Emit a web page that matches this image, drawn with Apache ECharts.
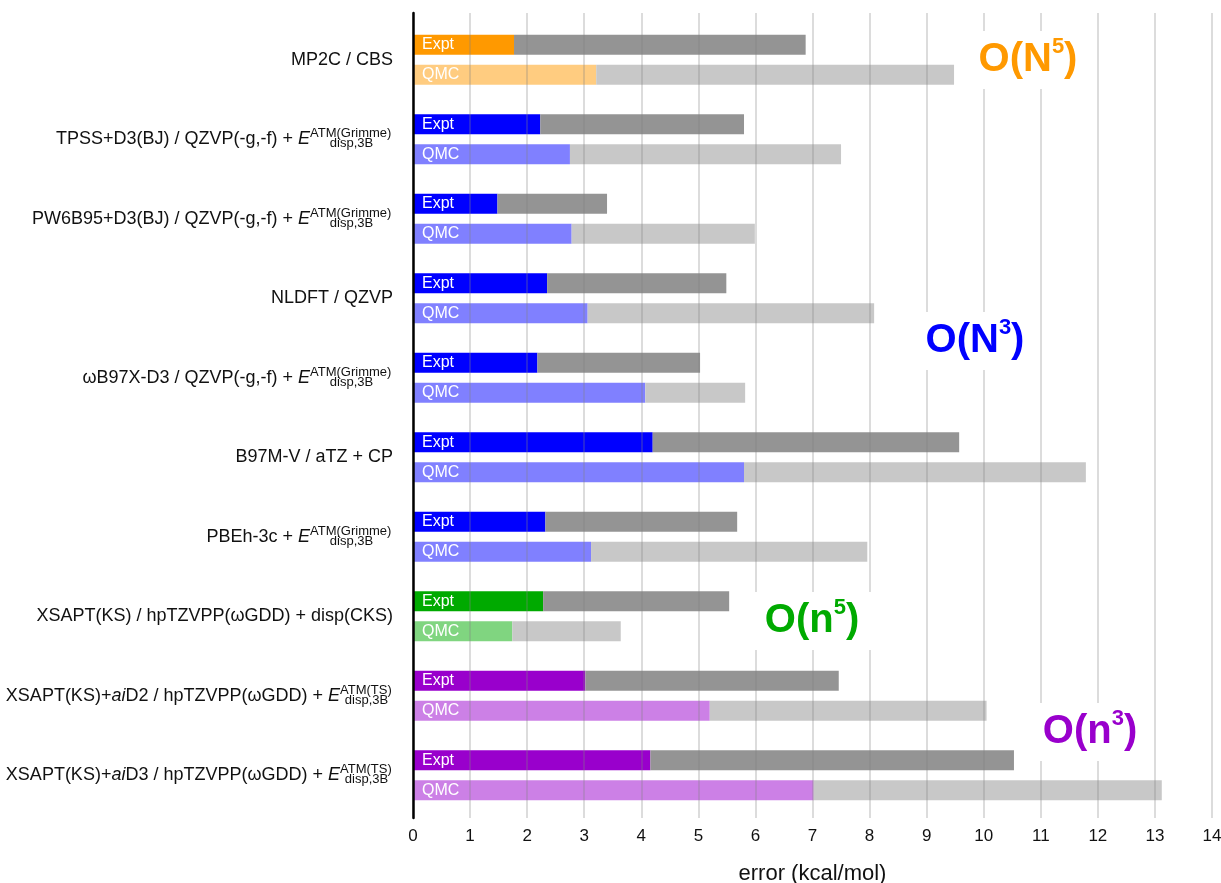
<!DOCTYPE html>
<html>
<head>
<meta charset="utf-8">
<script src="https://cdn.jsdelivr.net/npm/echarts/dist/echarts.min.js"></script>
<style>
  html, body { margin: 0; padding: 0; background: #fff; }
  #chart { width: 1221px; height: 883px; }
</style>
</head>
<body>
<div id="chart"></div>
<script>
// Methods, top to bottom. Text in {i|...} is set in italics.
const methods = [
  'MP2C / CBS',
  'TPSS+D3(BJ) / QZVP(-g,-f) + {i|E}',
  'PW6B95+D3(BJ) / QZVP(-g,-f) + {i|E}',
  'NLDFT / QZVP',
  'ωB97X-D3 / QZVP(-g,-f) + {i|E}',
  'B97M-V / aTZ + CP',
  'PBEh-3c + {i|E}',
  'XSAPT(KS) / hpTZVPP(ωGDD) + disp(CKS)',
  'XSAPT(KS)+{i|ai}D2 / hpTZVPP(ωGDD) + {i|E}',
  'XSAPT(KS)+{i|ai}D3 / hpTZVPP(ωGDD) + {i|E}'
];
// Three-body dispersion term attached to the method (superscript / subscript)
const atmSup = ['', 'ATM(Grimme)', 'ATM(Grimme)', '', 'ATM(Grimme)', '', 'ATM(Grimme)', '', 'ATM(TS)', 'ATM(TS)'];
const atmSub = ['', 'disp,3B', 'disp,3B', '', 'disp,3B', '', 'disp,3B', '', 'disp,3B', 'disp,3B'];
// Cost scaling class of each method
const scaling = ['N5', 'N3', 'N3', 'N3', 'N3', 'N3', 'N3', 'n5', 'n3', 'n3'];

// Errors (kcal/mol): coloured part and full bar length, vs. experiment and vs. QMC
const exptErr = [1.77, 2.23, 1.48, 2.35, 2.18, 4.20, 2.32, 2.28, 3.02, 4.16];
const exptMax = [6.88, 5.80, 3.40, 5.49, 5.03, 9.57, 5.68, 5.54, 7.46, 10.53];
const qmcErr  = [3.21, 2.75, 2.78, 3.06, 4.07, 5.80, 3.12, 1.74, 5.20, 7.02];
const qmcMax  = [9.48, 7.50, 5.99, 8.08, 5.82, 11.79, 7.96, 3.64, 10.05, 13.12];

const xTicks = [0, 1, 2, 3, 4, 5, 6, 7, 8, 9, 10, 11, 12, 13, 14];

const FONT = '"Liberation Sans", Arial, Helvetica, sans-serif';
const palette = {
  N5: { expt: '#FF9900', qmc: '#FFCC80', text: '#FF9900' },
  N3: { expt: '#0000FF', qmc: '#8080FF', text: '#0000FF' },
  n5: { expt: '#00AA00', qmc: '#80D580', text: '#00AA00' },
  n3: { expt: '#9900CC', qmc: '#CC80E6', text: '#9900CC' }
};

// Width of the stacked super/subscript column, so both start right after "E"
const ctx = document.createElement('canvas').getContext('2d');
ctx.font = '13px ' + FONT;
const scriptWidth = atmSup.map((s, i) => Math.ceil(Math.max(ctx.measureText(s).width, ctx.measureText(atmSub[i]).width)) + 1);

const richMain = {
  i: { fontStyle: 'italic', fontSize: 18, lineHeight: 22, color: '#111', fontFamily: FONT }
};
const richSup = {};
methods.forEach((m, k) => {
  richMain['sub' + k] = { fontSize: 13, lineHeight: 14, verticalAlign: 'bottom', width: scriptWidth[k], align: 'left', color: '#111', fontFamily: FONT };
  richSup['sup' + k] = { fontSize: 13, width: scriptWidth[k], align: 'left', color: '#111', fontFamily: FONT };
});

const names = methods.map((m, k) => 'm' + k);

const chart = echarts.init(document.getElementById('chart'), null, { renderer: 'canvas' });

const option = {
  animation: false,
  textStyle: { fontFamily: FONT },
  grid: [
    { left: 413, right: 9, top: 20, bottom: 68, outerBoundsMode: 'none', containLabel: false },   // bars
    { left: 413, right: 9, top: 13, bottom: 65, outerBoundsMode: 'none', containLabel: false }    // grid lines, axis line, ticks
  ],
  xAxis: [
    { gridIndex: 0, type: 'value', min: 0, max: 14, show: false },
    {
      gridIndex: 1, type: 'value', min: 0, max: 14, interval: 1, z: 5,
      axisLine: { show: false }, axisTick: { show: false },
      splitLine: { show: true, lineStyle: { color: 'rgba(128,128,128,0.28)', width: 2 } },
      axisLabel: {
        fontSize: 17, color: '#111', margin: 10,
        formatter: v => String(xTicks[v] !== undefined ? xTicks[v] : v)
      },
      name: 'error (kcal/mol)', nameLocation: 'middle', nameGap: 45,
      nameTextStyle: { fontSize: 22, color: '#111' }
    }
  ],
  yAxis: [
    {
      gridIndex: 0, type: 'category', data: names, inverse: true,
      axisLine: { show: false }, axisTick: { show: false }, splitLine: { show: false },
      axisLabel: {
        margin: 20, fontSize: 18, lineHeight: 22, color: '#111',
        formatter: (v, k) => methods[k] + (atmSub[k] ? '{sub' + k + '|' + atmSub[k] + '}' : ''),
        rich: richMain
      }
    },
    {
      gridIndex: 0, type: 'category', data: names, inverse: true, position: 'left',
      axisLine: { show: false }, axisTick: { show: false }, splitLine: { show: false },
      axisLabel: {
        margin: 20, fontSize: 13, color: '#111', padding: [0, 0, 11, 0],
        formatter: (v, k) => atmSup[k] ? '{sup' + k + '|' + atmSup[k] + '}' : '',
        rich: richSup
      }
    },
    {
      gridIndex: 1, type: 'value', min: 0, max: 1, z: 6,
      axisLine: { show: true, lineStyle: { color: '#000', width: 2.5 } },
      axisTick: { show: false }, axisLabel: { show: false }, splitLine: { show: false }
    }
  ],
  series: [
    {
      name: 'Expt', type: 'bar', xAxisIndex: 0, yAxisIndex: 0, stack: 'expt',
      barWidth: 20, barGap: '50%',
      data: exptErr.map((v, k) => ({ value: v, itemStyle: { color: palette[scaling[k]].expt } })),
      label: { show: true, position: 'insideLeft', distance: 9, formatter: 'Expt', color: '#fff', fontSize: 16 }
    },
    {
      name: 'Expt range', type: 'bar', xAxisIndex: 0, yAxisIndex: 0, stack: 'expt',
      barWidth: 20, barGap: '50%',
      itemStyle: { color: '#949494' },
      data: exptMax.map((v, k) => +(v - exptErr[k]).toFixed(3))
    },
    {
      name: 'QMC', type: 'bar', xAxisIndex: 0, yAxisIndex: 0, stack: 'qmc',
      barWidth: 20, barGap: '50%',
      data: qmcErr.map((v, k) => ({ value: v, itemStyle: { color: palette[scaling[k]].qmc } })),
      label: { show: true, position: 'insideLeft', distance: 9, formatter: 'QMC', color: '#fff', fontSize: 16 }
    },
    {
      name: 'QMC range', type: 'bar', xAxisIndex: 0, yAxisIndex: 0, stack: 'qmc',
      barWidth: 20, barGap: '50%',
      itemStyle: { color: '#C8C8C8' },
      data: qmcMax.map((v, k) => +(v - qmcErr[k]).toFixed(3))
    }
  ]
};
chart.setOption(option);

// Cost-scaling annotations on white boxes
function scalingTag(base, power, cls, x, y) {
  const c = palette[cls].text;
  return {
    type: 'text', x: x, y: y, z: 100,
    style: {
      text: '{m|' + base + '}{s|' + power + '}{m|)}',
      align: 'center', verticalAlign: 'middle',
      backgroundColor: '#fff', padding: [5, 13],
      rich: {
        m: { fontSize: 40, fontWeight: 'bold', fontFamily: FONT, fill: c, lineHeight: 48 },
        s: { fontSize: 22, fontWeight: 'bold', fontFamily: FONT, fill: c, lineHeight: 35, verticalAlign: 'top' }
      }
    }
  };
}
chart.setOption({
  graphic: [
    scalingTag('O(N', '5', 'N5', 1028, 60),
    scalingTag('O(N', '3', 'N3', 975, 341),
    scalingTag('O(n', '5', 'n5', 812, 621),
    scalingTag('O(n', '3', 'n3', 1090, 732)
  ]
});
</script>
</body>
</html>
